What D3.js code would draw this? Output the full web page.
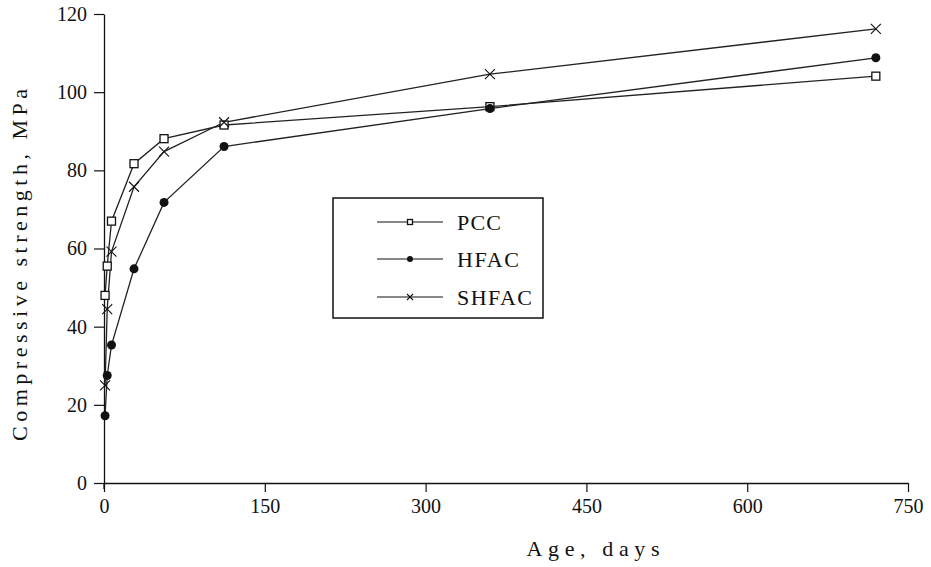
<!DOCTYPE html>
<html>
<head>
<meta charset="utf-8">
<script src="https://cdn.jsdelivr.net/npm/d3@7"></script>
<style>
  html, body { margin: 0; padding: 0; background: #fff; }
  svg { display: block; }
  text { font-family: "Liberation Serif", "DejaVu Serif", serif; fill: #111; }
</style>
</head>
<body>
<script>
// Curing ages (days) and compressive strength (MPa) of each mix
const ages  = [1, 3, 7, 28, 56, 112, 360, 720];
const pcc   = [48, 55.5, 67, 81.7, 88.1, 91.6, 96.3, 104.1];
const hfac  = [17.2, 27.5, 35.3, 54.8, 71.8, 86.1, 95.8, 108.8];
const shfac = [25, 44.5, 59.2, 75.8, 84.8, 92.3, 104.6, 116.2];

const seriesNames = ["PCC", "HFAC", "SHFAC"];
const markerTypes = ["square", "circle", "cross"];

const xMajorTicks = [0, 150, 300, 450, 600, 750];
const xMinorTicks = [50, 100, 200, 250, 350, 400, 500, 550, 650, 700];
const yMajorTicks = [0, 20, 40, 60, 80, 100, 120];
const yMinorTicks = [10, 30, 50, 70, 90, 110];

const xTitle = "Age, days";
const yTitle = "Compressive strength, MPa";

const W = 931, H = 567;
const svg = d3.select("body").append("svg").attr("width", W).attr("height", H);

const x = d3.scaleLinear().domain([0, 750]).range([104, 908]);
const y = d3.scaleLinear().domain([0, 120]).range([483, 14]);

const ink = "#111";

// Axes: major and minor ticks drawn outward
function styleAxis(g) {
  g.selectAll("path.domain").attr("stroke", ink).attr("stroke-width", 1.3);
  g.selectAll(".tick line").attr("stroke", ink).attr("stroke-width", 1.2);
  g.selectAll(".tick text")
    .style("font-family", "'Liberation Serif', serif")
    .style("font-size", "20px")
    .attr("fill", ink);
}

const gx = svg.append("g").attr("transform", `translate(0,${y(0)})`);
gx.call(d3.axisBottom(x).tickValues(xMinorTicks).tickSize(5).tickSizeOuter(0).tickFormat(""));
gx.call(d3.axisBottom(x).tickValues(xMajorTicks).tickSize(9).tickSizeOuter(0).tickPadding(7).tickFormat(d3.format("d")));
styleAxis(gx);

const gy = svg.append("g").attr("transform", `translate(${x(0)},0)`);
gy.call(d3.axisLeft(y).tickValues(yMinorTicks).tickSize(5).tickSizeOuter(0).tickFormat(""));
gy.call(d3.axisLeft(y).tickValues(yMajorTicks).tickSize(10).tickSizeOuter(0).tickPadding(7).tickFormat(d3.format("d")));
styleAxis(gy);
// y axis continues a few pixels below the x axis
gy.append("line").attr("x1", 0).attr("x2", 0).attr("y1", y(0)).attr("y2", y(0) + 6)
  .attr("stroke", ink).attr("stroke-width", 1.3);

// Axis titles
svg.append("text")
  .attr("x", 593).attr("y", 556)
  .attr("text-anchor", "middle")
  .attr("textLength", 133).attr("lengthAdjust", "spacing")
  .style("font-size", "22px")
  .text(xTitle);

svg.append("text")
  .attr("transform", `translate(27,${265}) rotate(-90)`)
  .attr("text-anchor", "middle")
  .attr("textLength", 352).attr("lengthAdjust", "spacing")
  .style("font-size", "22px")
  .text(yTitle);

// Marker drawing helper
function drawMarker(g, type, cx, cy, s) {
  if (type === "square") {
    g.append("rect").attr("x", cx - s / 2).attr("y", cy - s / 2)
      .attr("width", s).attr("height", s)
      .attr("fill", "#fff").attr("stroke", ink).attr("stroke-width", 1.3);
  } else if (type === "circle") {
    g.append("circle").attr("cx", cx).attr("cy", cy).attr("r", s / 2)
      .attr("fill", ink).attr("stroke", "none");
  } else {
    const h = s / 2;
    g.append("path")
      .attr("d", `M${cx - h},${cy - h}L${cx + h},${cy + h}M${cx - h},${cy + h}L${cx + h},${cy - h}`)
      .attr("stroke", ink).attr("stroke-width", 1.1).attr("fill", "none");
  }
}

const series = [pcc, hfac, shfac].map((vals, i) => ({
  name: seriesNames[i],
  type: markerTypes[i],
  points: ages.map((a, j) => ({ age: a, v: vals[j] }))
}));

const line = d3.line().x(d => x(d.age)).y(d => y(d.v));
const plot = svg.append("g");

series.forEach(s => {
  plot.append("path").datum(s.points)
    .attr("d", line)
    .attr("fill", "none").attr("stroke", "#222").attr("stroke-width", 1.3);
});
series.forEach(s => {
  const size = s.type === "square" ? 8 : s.type === "circle" ? 9 : 10;
  s.points.forEach(p => drawMarker(plot, s.type, x(p.age), y(p.v), size));
});

// Legend
const lg = svg.append("g");
lg.append("rect").attr("x", 333).attr("y", 198).attr("width", 210).attr("height", 120)
  .attr("fill", "#fff").attr("stroke", ink).attr("stroke-width", 1.5);
const rowY = [222, 259, 297];
const legendTextLen = [44, 62, 75];
series.forEach((s, i) => {
  lg.append("line").attr("x1", 377).attr("x2", 443).attr("y1", rowY[i]).attr("y2", rowY[i])
    .attr("stroke", ink).attr("stroke-width", 1.2);
  const size = s.type === "square" ? 5 : 6;
  drawMarker(lg, s.type, 410, rowY[i], size);
  lg.append("text").attr("x", 457).attr("y", rowY[i] + 8)
    .attr("textLength", legendTextLen[i]).attr("lengthAdjust", "spacing")
    .style("font-size", "22px")
    .text(s.name);
});
</script>
</body>
</html>
